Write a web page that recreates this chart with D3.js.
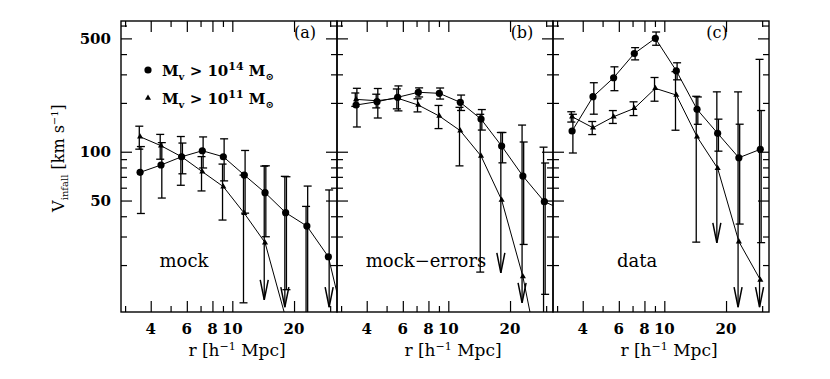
<!DOCTYPE html>
<html>
<head>
<meta charset="utf-8">
<script src="https://cdn.jsdelivr.net/npm/d3@7"></script>
<style>
  body { margin: 0; background: #fff; }
  svg text { font-family: "DejaVu Serif", serif; fill: #000; }
</style>
</head>
<body>
<svg id="chart" width="830" height="379"></svg>
<script>
// radial bins in h^-1 Mpc (the last one sits just past the right edge)
const rBins = [3.55, 4.49, 5.66, 7.14, 9.04, 11.44, 14.44, 18.2, 23.1, 29.4, 37.2];

const panelLetters = ["(a)", "(b)", "(c)"];
const panelTags = ["mock", "mock\u2212errors", "data"];

// M_v > 10^14 (filled circles): value, error, arrow tip (upper limits)
const circA    = [74.6, 82.8, 93.1, 101.4, 93.1, 71.8, 55.9, 42.1, 34.8, 22.5, 6.5];
const circErrA = [33, 31, 20, 22, 27, 30, 26, 28, 26.6, 35.6, null];
const circTipA = [null, null, null, null, null, null, null, null, null, 11.0, null];

const circB    = [194.1, 203.4, 216.6, 232.6, 229.2, 201.6, 159, 108.4, 70.8, 49.2, 43];
const circErrB = [52, 42, 38, 15, 18, 22, 23, 23, 44, 36, null];
const circTipB = [null, null, null, null, null, null, null, null, null, null, null];

const circC    = [134.2, 218.4, 285.9, 403.5, 500.4, 315.6, 182.6, 129.8, 91.8, 103.5, null];
const circErrC = [36, 48, 48, 35, 47, 38, 35, 29, 56, 76, null];
const circTipC = [null, null, null, null, null, null, null, null, null, null, null];

// M_v > 10^11 (small triangles)
const triA    = [123.7, 108.9, 93.1, 75.3, 60.9, 41.7, 27.5, 9.5, 4, null, null];
const triErrA = [20, 19, 31, 18, 23, 30, 54, 61, 42, null, null];
const triTipA = [null, null, null, null, null, null, 12.2, 11.0, null, null, null];

const triB    = [210.3, 206.3, 213.8, 194, 165.9, 134.8, 94.1, 50.4, 17.0, 3.7, null];
const triErrB = [20, 20, 30, 18, 27, 53, 76, 81, 129, 103, null];
const triTipB = [null, null, null, null, null, null, null, 17.9, 11.7, null, null];

const triC    = [164.4, 140.6, 164.4, 185.1, 245.9, 223.7, 123.7, 79, 27.9, 16.2, null];
const triErrC = [12, 13, 15, 18, 41, 88, 96, 155, 206, 355, null];
const triTipC = [null, null, null, null, null, null, null, 27.4, 11.0, 11.0, null];

// ticks
const xMajorTicks = [4, 6, 8, 10, 20];
const xMinorTicks = [3, 5, 7, 9, 30];
const yMajorTicks = [50, 100, 500];
const yMinorTicks = [20, 30, 40, 60, 70, 80, 90, 200, 300, 400, 600];
const yLabels = [50, 100, 500];

const panels = [
  {circ: circA, circErr: circErrA, circTip: circTipA, tri: triA, triErr: triErrA, triTip: triTipA},
  {circ: circB, circErr: circErrB, circTip: circTipB, tri: triB, triErr: triErrB, triTip: triTipB},
  {circ: circC, circErr: circErrC, circTip: circTipC, tri: triC, triErr: triErrC, triTip: triTipC}
];

// layout
const marginLeft = 121, marginTop = 21, panelW = 216, plotH = 291;
const letterX = [184, 185, 164];
const tagX = [63, 89, 84];

const svg = d3.select("#chart");

const x = d3.scaleLog().domain([2.865, 32.4]).range([0, panelW]);
const y = d3.scaleLog().domain([10.27, 640]).range([plotH, 0]);
const yMin = y.domain()[0], yMax = y.domain()[1];

const line = d3.line()
  .defined(d => d.v != null)
  .x(d => x(d.r))
  .y(d => y(d.v));

function drawBars(g, vals, errs, tips, dx) {
  vals.forEach((v, i) => {
    if (v == null || errs[i] == null) return;
    const cx = x(rBins[i]) + dx;
    const hi = v + errs[i], lo = v - errs[i];
    const yTop = y(Math.min(hi, yMax));
    let yBot, capBot = false, arrow = false;
    if (lo > 0) {
      if (lo >= yMin) { yBot = y(lo); capBot = true; }
      else yBot = plotH;
    } else if (tips[i] != null) {
      yBot = y(tips[i]); arrow = true;
    } else {
      yBot = plotH;
    }
    g.append("line")
      .attr("x1", cx).attr("x2", cx)
      .attr("y1", yTop).attr("y2", yBot)
      .attr("stroke", "#000").attr("stroke-width", 1.3);
    if (hi < yMax) {
      g.append("line")
        .attr("x1", cx - 4).attr("x2", cx + 4)
        .attr("y1", yTop).attr("y2", yTop)
        .attr("stroke", "#000").attr("stroke-width", 1.3);
    }
    if (capBot) {
      g.append("line")
        .attr("x1", cx - 4).attr("x2", cx + 4)
        .attr("y1", yBot).attr("y2", yBot)
        .attr("stroke", "#000").attr("stroke-width", 1.3);
    }
    if (arrow) {
      g.append("path")
        .attr("d", `M${cx - 4},${yBot - 20}L${cx},${yBot}L${cx + 4},${yBot - 20}`)
        .attr("fill", "none")
        .attr("stroke", "#000").attr("stroke-width", 1.5);
    }
  });
}

panels.forEach((p, k) => {
  const g = svg.append("g")
    .attr("transform", `translate(${marginLeft + k * panelW},${marginTop})`);

  g.append("clipPath").attr("id", "clip" + k)
    .append("rect").attr("width", panelW).attr("height", plotH);

  // inward ticks on all four sides
  const tickSets = [
    [d3.axisBottom(x).tickValues(xMajorTicks).tickSize(-11), `translate(0,${plotH})`],
    [d3.axisBottom(x).tickValues(xMinorTicks).tickSize(-6), `translate(0,${plotH})`],
    [d3.axisTop(x).tickValues(xMajorTicks).tickSize(-11), null],
    [d3.axisTop(x).tickValues(xMinorTicks).tickSize(-6), null],
    [d3.axisLeft(y).tickValues(yMajorTicks).tickSize(-11), null],
    [d3.axisLeft(y).tickValues(yMinorTicks).tickSize(-6), null],
    [d3.axisRight(y).tickValues(yMajorTicks).tickSize(-11), `translate(${panelW},0)`],
    [d3.axisRight(y).tickValues(yMinorTicks).tickSize(-6), `translate(${panelW},0)`]
  ];
  tickSets.forEach(([ax, tr]) => {
    const a = g.append("g").call(ax.tickFormat("").tickSizeOuter(0));
    if (tr) a.attr("transform", tr);
    a.select(".domain").remove();
    a.selectAll("line").attr("stroke", "#000").attr("stroke-width", 1.2);
  });

  g.append("rect")
    .attr("width", panelW).attr("height", plotH)
    .attr("fill", "none").attr("stroke", "#000").attr("stroke-width", 1.4);

  const data = g.append("g").attr("clip-path", `url(#clip${k})`);

  drawBars(data, p.circ, p.circErr, p.circTip, 0.8);
  drawBars(data, p.tri, p.triErr, p.triTip, -0.8);

  const circPts = rBins.map((r, i) => ({r: r, v: p.circ[i]}));
  const triPts = rBins.map((r, i) => ({r: r, v: p.tri[i]}));

  data.append("path").datum(circPts)
    .attr("d", line).attr("fill", "none")
    .attr("stroke", "#000").attr("stroke-width", 1);
  data.append("path").datum(triPts)
    .attr("d", line).attr("fill", "none")
    .attr("stroke", "#000").attr("stroke-width", 1);

  data.selectAll(".circ").data(circPts.filter(d => d.v != null))
    .enter().append("circle")
    .attr("cx", d => x(d.r)).attr("cy", d => y(d.v))
    .attr("r", 3.6).attr("fill", "#000");
  data.selectAll(".tri").data(triPts.filter(d => d.v != null))
    .enter().append("path")
    .attr("transform", d => `translate(${x(d.r)},${y(d.v)})`)
    .attr("d", d3.symbol(d3.symbolTriangle, 16))
    .attr("fill", "#000");

  // x tick labels
  g.selectAll(".xl").data(xMajorTicks).enter().append("text")
    .attr("x", d => x(d)).attr("y", plotH + 22)
    .attr("text-anchor", "middle")
    .style("font-size", "15px").style("font-weight", "bold")
    .text(d => d);

  // x title
  const xt = g.append("text")
    .attr("x", 116).attr("y", plotH + 44)
    .attr("text-anchor", "middle")
    .style("font-size", "17px");
  xt.append("tspan").text("r [h");
  xt.append("tspan").attr("dy", -6).style("font-size", "11px").text("\u22121");
  xt.append("tspan").attr("dy", 6).text(" Mpc]");

  g.append("text")
    .attr("x", letterX[k]).attr("y", 17)
    .attr("text-anchor", "middle")
    .style("font-size", "16px")
    .text(panelLetters[k]);

  g.append("text")
    .attr("x", tagX[k]).attr("y", 246)
    .attr("text-anchor", "middle")
    .style("font-size", "18px")
    .text(panelTags[k]);

  if (k === 0) {
    g.selectAll(".yl").data(yLabels).enter().append("text")
      .attr("x", -10).attr("y", d => y(d))
      .attr("dy", "0.36em")
      .attr("text-anchor", "end")
      .style("font-size", "15px").style("font-weight", "bold")
      .text(d => d);

    // legend
    const legendRows = [
      {sym: "circ", exp: "14", yy: 49},
      {sym: "tri", exp: "11", yy: 77}
    ];
    legendRows.forEach(row => {
      if (row.sym === "circ") {
        g.append("circle").attr("cx", 27).attr("cy", row.yy).attr("r", 3.6).attr("fill", "#000");
      } else {
        g.append("path")
          .attr("transform", `translate(27,${row.yy})`)
          .attr("d", d3.symbol(d3.symbolTriangle, 16))
          .attr("fill", "#000");
      }
      const t = g.append("text")
        .attr("x", 41).attr("y", row.yy + 6)
        .style("font-size", "15px").style("font-weight", "bold");
      t.append("tspan").text("M");
      t.append("tspan").attr("dy", 4).style("font-size", "10px").text("v");
      t.append("tspan").attr("dy", -4).text("  >  10");
      t.append("tspan").attr("dy", -6).style("font-size", "11px").text(row.exp);
      t.append("tspan").attr("dy", 6).text("  M");
      t.append("tspan").attr("dy", 4).style("font-size", "10px").text("\u2299");
    });
  }
});

// y title
const yt = svg.append("text")
  .attr("transform", "translate(64,158) rotate(-90)")
  .attr("text-anchor", "middle")
  .style("font-size", "16px");
yt.append("tspan").text("V");
yt.append("tspan").attr("dy", 4).style("font-size", "10px").text("infall");
yt.append("tspan").attr("dy", -4).text(" [km s");
yt.append("tspan").attr("dy", -6).style("font-size", "10px").text("\u22121");
yt.append("tspan").attr("dy", 6).text("]");
</script>
</body>
</html>
